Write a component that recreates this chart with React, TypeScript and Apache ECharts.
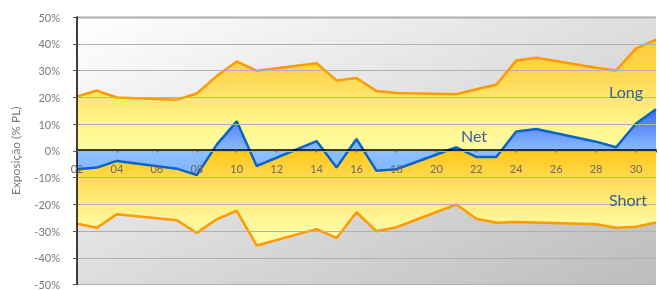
import React, { useEffect, useRef } from "react";
import * as echarts from "echarts";

const days = [2, 3, 4, 7, 8, 9, 10, 11, 14, 15, 16, 17, 18, 21, 22, 23, 24, 25, 28, 29, 30, 31];
const longValues = [20.3, 22.5, 19.9, 19.1, 21.4, 27.9, 33.4, 29.9, 32.7, 26.3, 27.2, 22.3, 21.6, 21.1, 23.0, 24.7, 33.7, 34.8, 31.0, 30.0, 38.3, 41.5];
const shortValues = [-27.3, -28.8, -23.7, -26.0, -30.7, -25.6, -22.5, -35.4, -29.3, -32.6, -23.0, -30.1, -28.6, -20.1, -25.4, -26.9, -26.6, -26.8, -27.5, -28.8, -28.4, -26.8];
const netValues = [-6.9, -6.3, -3.8, -6.7, -9.1, 2.3, 11.0, -5.7, 3.6, -6.3, 4.4, -7.5, -6.9, 1.3, -2.3, -2.3, 7.2, 8.1, 3.4, 1.3, 10.2, 15.5];
const seriesNames = ["Long", "Short", "Net"];
const yAxisName = "Exposição (% PL)";

const FONT = "Lato, 'Open Sans', sans-serif";

export default function App() {
  const ref = useRef<HTMLDivElement>(null);
  useEffect(() => {
    if (!ref.current) return;
    const chart = echarts.init(ref.current, null, { renderer: "svg" });
    const pair = (vals: number[]) => days.map((d, i) => [d, vals[i]]);
    const G = echarts.graphic.LinearGradient;
    const option: any = {
      animation: false,
      textStyle: { fontFamily: FONT },
      grid: {
        left: 77,
        right: 0,
        top: 17,
        bottom: 3,
        show: true,
        borderWidth: 0,
        backgroundColor: new G(0, 0, 1, 1, [
          { offset: 0, color: "#ffffff" },
          { offset: 1, color: "#bcbcbc" },
        ]),
      },
      xAxis: {
        type: "value",
        min: 2,
        max: 31,
        interval: 2,
        z: 10,
        offset: -135,
        axisLine: { show: true, onZero: false, lineStyle: { color: "#000", width: 1.5 } },
        axisTick: { show: true, length: 3, lineStyle: { color: "#555" } },
        splitLine: { show: false },
        axisLabel: {
          margin: 13,
          color: "#6a6a6a",
          fontSize: 11,
          fontFamily: FONT,
          formatter: (v: number) => (v === 31 ? "" : (v < 10 ? "0" : "") + v),
        },
      },
      yAxis: {
        type: "value",
        min: -50,
        max: 50,
        interval: 10,
        z: 10,
        name: yAxisName,
        nameLocation: "middle",
        nameGap: 56,
        nameTextStyle: { color: "#7a7a7a", fontSize: 12, fontFamily: FONT },
        axisLine: { show: true, lineStyle: { color: "#000", width: 1.5 } },
        axisTick: { show: true, length: 4, lineStyle: { color: "#555" } },
        splitLine: { show: true, lineStyle: { color: "#b0b0b0", width: 1 } },
        axisLabel: {
          margin: 17,
          color: "#7a7a7a",
          fontSize: 11,
          fontFamily: FONT,
          formatter: (v: number) => v + "%",
        },
      },
      series: [
        {
          name: seriesNames[0],
          type: "line",
          data: pair(longValues),
          symbol: "none",
          z: 2,
          lineStyle: { color: "#ff9a00", width: 2.5 },
          areaStyle: {
            opacity: 1,
            color: new G(0, 17, 0, 152, [
              { offset: 0, color: "#ffc42a" },
              { offset: 0.4, color: "#ffd54e" },
              { offset: 0.8, color: "#fff68e" },
              { offset: 1, color: "#fffca2" },
            ], true),
          },
          markLine: {
            silent: true,
            symbol: "none",
            label: { show: false },
            lineStyle: { color: "#c4c4c4", width: 2.5, type: "solid" },
            data: [{ yAxis: 50 }],
          },
        },
        {
          name: seriesNames[1],
          type: "line",
          data: pair(shortValues),
          symbol: "none",
          z: 2,
          lineStyle: { color: "#ff9a00", width: 2.5 },
          areaStyle: {
            opacity: 1,
            color: new G(0, 152, 0, 240, [
              { offset: 0, color: "#ffc81c" },
              { offset: 0.45, color: "#ffe36a" },
              { offset: 0.75, color: "#fff696" },
              { offset: 1, color: "#fffca8" },
            ], true),
          },
        },
        {
          name: seriesNames[2],
          type: "line",
          data: pair(netValues),
          symbol: "none",
          z: 3,
          lineStyle: { color: "#0a64c8", width: 2.5 },
          areaStyle: {
            opacity: 1,
            color: new G(0, 105, 0, 180, [
              { offset: 0, color: "#3460f0" },
              { offset: 0.63, color: "#8cc0ff" },
              { offset: 1, color: "#7ab2ff" },
            ], true),
          },
        },
      ],
      graphic: [
        { type: "text", z: 100, left: 609, top: 83, style: { text: seriesNames[0], fill: "#3a609e", fontSize: 16, fontFamily: FONT } },
        { type: "text", z: 100, left: 461, top: 127, style: { text: seriesNames[2], fill: "#3a609e", fontSize: 16, fontFamily: FONT } },
        { type: "text", z: 100, left: 609, top: 191, style: { text: seriesNames[1], fill: "#3a609e", fontSize: 16, fontFamily: FONT } },
      ],
    };
    chart.setOption(option);
    return () => chart.dispose();
  }, []);
  return (
    <div
      ref={ref}
      style={{ position: "fixed", left: 0, top: 0, width: 659, height: 290 }}
    />
  );
}
